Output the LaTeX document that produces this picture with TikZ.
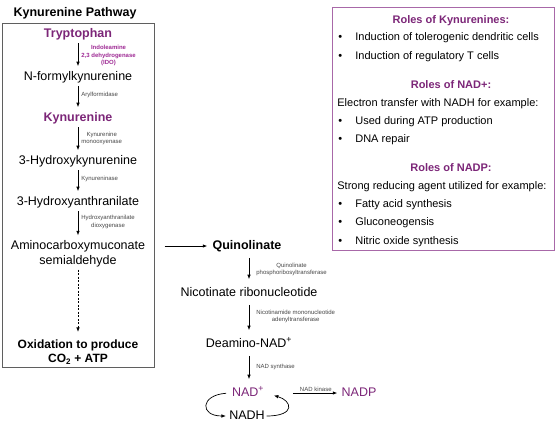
\documentclass[tikz,border=0pt]{standalone}
\usepackage{fontspec}
\setmainfont{Liberation Sans}
\usetikzlibrary{arrows.meta, positioning}
\tikzset{>={Latex[length=4.5pt,width=3.5pt]}}

\definecolor{kpurple}{RGB}{124,38,120}
\definecolor{idopurple}{RGB}{158,42,148}
\definecolor{boxpurple}{RGB}{168,104,168}
\definecolor{enzgray}{RGB}{70,70,70}
\definecolor{boxgray}{RGB}{95,95,95}

\tikzset{
  metab/.style={inner sep=1.5pt, text height=9.2pt, text depth=2.7pt, font=\fontsize{12.5}{15}\selectfont},
  keymet/.style={metab, font=\fontsize{12.5}{15}\selectfont\bfseries, text=kpurple},
  metabtwo/.style={inner sep=1.5pt, align=center, font=\fontsize{12.5}{15}\selectfont},
  enz/.style={inner sep=1pt, align=center, text=enzgray, font=\fontsize{6}{7.5}\selectfont},
  rolehead/.style={inner sep=0pt, text height=8pt, text depth=2.3pt, text=kpurple, font=\fontsize{11}{13}\selectfont\bfseries},
  roleitem/.style={anchor=west, inner sep=0pt, text height=8pt, text depth=2.3pt, font=\fontsize{11}{13}\selectfont},
  leftstep/.style={->, shorten <=1.5pt, shorten >=3pt},
  rightstep/.style={->, shorten <=4pt, shorten >=6pt}
}

\begin{document}
\begin{tikzpicture}[x=1pt, y=-1pt, line width=0.7pt]
\useasboundingbox (0,0) rectangle (556,431);

% Kynurenine pathway (boxed)
\node[inner sep=0pt, font=\fontsize{12.5}{15}\selectfont\bfseries] (ttl) at (75,13) {Kynurenine Pathway};
\node[draw=boxgray, line width=1pt, minimum width=152pt, minimum height=344pt, inner sep=0pt] (lbox) at (78,195) {};

\node[keymet] (tryp) at (78,34) {Tryptophan};
\node[metab] (nform) at (78,77) {N-formylkynurenine};
\node[keymet] (kyn) at (78,118) {Kynurenine};
\node[metab] (hkyn) at (78,161) {3-Hydroxykynurenine};
\node[metab] (hanth) at (78,202) {3-Hydroxyanthranilate};
\node[metabtwo] (amino) at (78,253.5) {Aminocarboxymuconate\\semialdehyde};
\node[metabtwo, font=\fontsize{12}{14}\selectfont\bfseries] (oxid) at (78,352) {Oxidation to produce\\CO\textsubscript{2} + ATP};

\draw[leftstep] (tryp) -- (nform)
  node[midway, right, xshift=2pt, enz, text=idopurple, font=\fontsize{6}{7.5}\selectfont\bfseries] (ido) {Indoleamine\\2,3 dehydrogenase\\(IDO)};
\draw[leftstep] (nform) -- (kyn) node[midway, right, xshift=2pt, yshift=3pt, enz] (aryl) {Arylformidase};
\draw[leftstep] (kyn) -- (hkyn) node[midway, right, xshift=2pt, yshift=1pt, enz] (kmo) {Kynurenine\\monooxyenase};
\draw[leftstep] (hkyn) -- (hanth) node[midway, right, xshift=2pt, yshift=2.5pt, enz] (kynu) {Kynureninase};
\draw[leftstep] (hanth) -- (amino) node[midway, right, xshift=2pt, yshift=2pt, enz] (haao) {Hydroxyanthranilate\\dioxygenase};
\draw[->, dash pattern=on 2pt off 1.5pt, shorten <=1pt, shorten >=6pt] (amino) -- (oxid);

% NAD+ branch
\node[metab, font=\fontsize{12.5}{15}\selectfont\bfseries] (quin) at (247,246) {Quinolinate};
\node[metab] (nicot) at (249,293) {Nicotinate ribonucleotide};
\node[metab] (deam) at (249,344) {Deamino-NAD\textsuperscript{+}};
\node[metab, text=kpurple] (nad) at (248,393) {NAD\textsuperscript{+}};
\node[metab] (nadh) at (247,416) {NADH};
\node[metab, text=kpurple] (nadp) at (359,393) {NADP};
\coordinate (nadin) at ([xshift=8pt, yshift=-2.5pt]nad.east);

\draw[->, shorten <=10pt, shorten >=3.5pt] (lbox.east |- quin.west) -- (quin.west);
\draw[rightstep] (quin.south -| nicot) -- (nicot) node[midway, right, xshift=6pt, enz] (qprt) {Quinolinate\\phosphoribosyltransferase};
\draw[rightstep] (nicot) -- (deam) node[midway, right, xshift=6pt, yshift=2pt, enz] (nmnat) {Nicotinamide mononucleotide\\adenyltransferase};
\draw[rightstep] (deam) -- (deam |- nad.north) node[midway, right, xshift=6pt, yshift=2pt, enz] (nads) {NAD synthase};

% NAD+/NADH cycle
\draw[->, shorten <=4pt, shorten >=1.5pt] (nad.west) .. controls +(-30,2) and +(-28,0) .. (nadh.west);
\draw[->] (nadh.east) .. controls +(30,0) and +(18,5) .. (nadin);
\draw[->, shorten <=27pt, shorten >=2.5pt] (nad.east) -- (nad.east -| nadp.west)
  node[midway, above, xshift=13pt, enz] (nadk) {NAD kinase};

% Roles box
\node[draw=boxpurple, line width=1pt, minimum width=222pt, minimum height=243pt, inner sep=0pt] (rbox) at (443,128.5) {};
\node[rolehead] (hdkyn) at (451,21) {Roles of Kynurenines:};
\node[rolehead] (hdnad) at (451,86) {Roles of NAD+:};
\node[rolehead] (hdnadp) at (451,169) {Roles of NADP:};
\node[roleitem] (lnad) at (337,104) {Electron transfer with NADH for example:};
\node[roleitem] (lnadp) at (337,187) {Strong reducing agent utilized for example:};
\foreach \y/\t in {38/Induction of tolerogenic dendritic cells, 57/Induction of regulatory T cells,
    122/Used during ATP production, 140/DNA repair, 205/Fatty acid synthesis,
    223/Gluconeogensis, 242/Nitric oxide synthesis} {
  \node[roleitem] (b\y) at (338,\y) {•};
  \node[roleitem] (i\y) at (355,\y) {\t};
}

\end{tikzpicture}
\end{document}
